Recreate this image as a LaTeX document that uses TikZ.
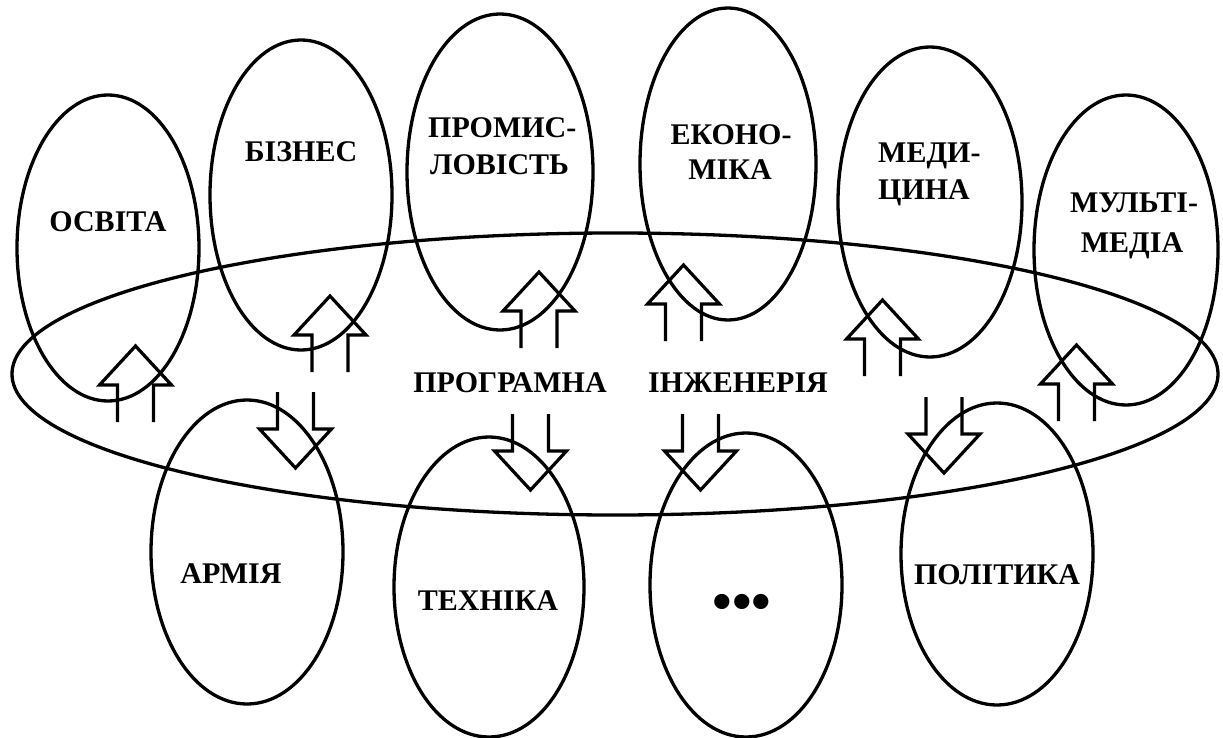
\documentclass[tikz,border=0pt]{standalone}
\usepackage{fontspec}
\newfontfamily\tnr{Liberation Serif}
\usetikzlibrary{shapes.geometric}
\tikzset{
  oval/.style 2 args={draw, ellipse, line width=3.3pt, inner sep=0pt, minimum width=#1, minimum height=#2},
  lbl/.style={font=\tnr\bfseries\fontsize{30}{36}\selectfont, inner sep=0pt},
  arr/.style={line width=3.2pt, line join=miter},
  uparr/.pic={\draw[arr] (-18,76) -- (-18,39) -- (-36,39) -- (0,0) -- (36,39) -- (18,39) -- (18,76);},
  downarr/.pic={\draw[arr] (-18,-76) -- (-18,-39) -- (-36,-39) -- (0,0) -- (36,-39) -- (18,-39) -- (18,-76);}
}
\begin{document}
\begin{tikzpicture}[x=1pt,y=-1pt]
\useasboundingbox (0,0) rectangle (1223,738);
\fill[white] (0,0) rectangle (1223,738);

% big ellipse
\node[oval={1206pt}{282pt}] (big) at (615,374) {};

% top ellipses
\node[oval={182pt}{306pt}] (osvita) at (108,248) {};
\node[oval={182pt}{310pt}] (biznes) at (301,195) {};
\node[oval={186pt}{316pt}] (prom) at (500,172) {};
\node[oval={176pt}{312pt}] (ekon) at (728,164) {};
\node[oval={184pt}{310pt}] (medi) at (930,202) {};
\node[oval={184pt}{310pt}] (multi) at (1126,250) {};

% bottom ellipses
\node[oval={192pt}{304pt}] (armia) at (247,552) {};
\node[oval={190pt}{300pt}] (tekh) at (489,587) {};
\node[oval={192pt}{304pt}] (dots) at (746,585) {};
\node[oval={192pt}{302pt}] (polit) at (997,554) {};

% labels
\node[lbl, anchor=base] (tOsvita) at (108,232) {ОСВІТА};
\node[lbl, anchor=base] (tBiznes) at (301,162) {БІЗНЕС};
\node[lbl, anchor=base west] (tProm1) at (428,138) {ПРОМИС-};
\node[lbl, anchor=base west] (tProm2) at (430,175) {ЛОВІСТЬ};
\node[lbl, anchor=base] (tEkon1) at (731,145) {ЕКОНО-};
\node[lbl, anchor=base] (tEkon2) at (730,180) {МІКА};
\node[lbl, anchor=base west] (tMedi1) at (878,163) {МЕДИ-};
\node[lbl, anchor=base west] (tMedi2) at (878,200) {ЦИНА};
\node[lbl, anchor=base] (tMulti1) at (1134,213) {МУЛЬТІ-};
\node[lbl, anchor=base] (tMulti2) at (1132,252) {МЕДІА};
\node[lbl, anchor=base] (tArmia) at (231,583) {АРМІЯ};
\node[lbl, anchor=base] (tTekh) at (488,610) {ТЕХНІКА};
\node[lbl, font=\tnr\bfseries\fontsize{56}{56}\selectfont] (tDots) at (742,607) {•••};
\node[lbl, anchor=base] (tPolit) at (997,584) {ПОЛІТИКА};
\node[lbl, anchor=base] (tProg) at (510,392) {ПРОГРАМНА};
\node[lbl, anchor=base] (tInzh) at (738,392) {ІНЖЕНЕРІЯ};

% up arrows (apex)
\pic (a1) at (135.5,346) {uparr};
\pic (a2) at (330,296) {uparr};
\pic (a3) at (539,272) {uparr};
\pic (a4) at (683.5,265) {uparr};
\pic (a5) at (882.5,300) {uparr};
\pic (a6) at (1076.5,345) {uparr};

% down arrows (apex)
\pic (d1) at (295.5,468) {downarr};
\pic (d2) at (530.5,490) {downarr};
\pic (d3) at (700.5,490) {downarr};
\pic (d4) at (944,473) {downarr};
\end{tikzpicture}
\end{document}
